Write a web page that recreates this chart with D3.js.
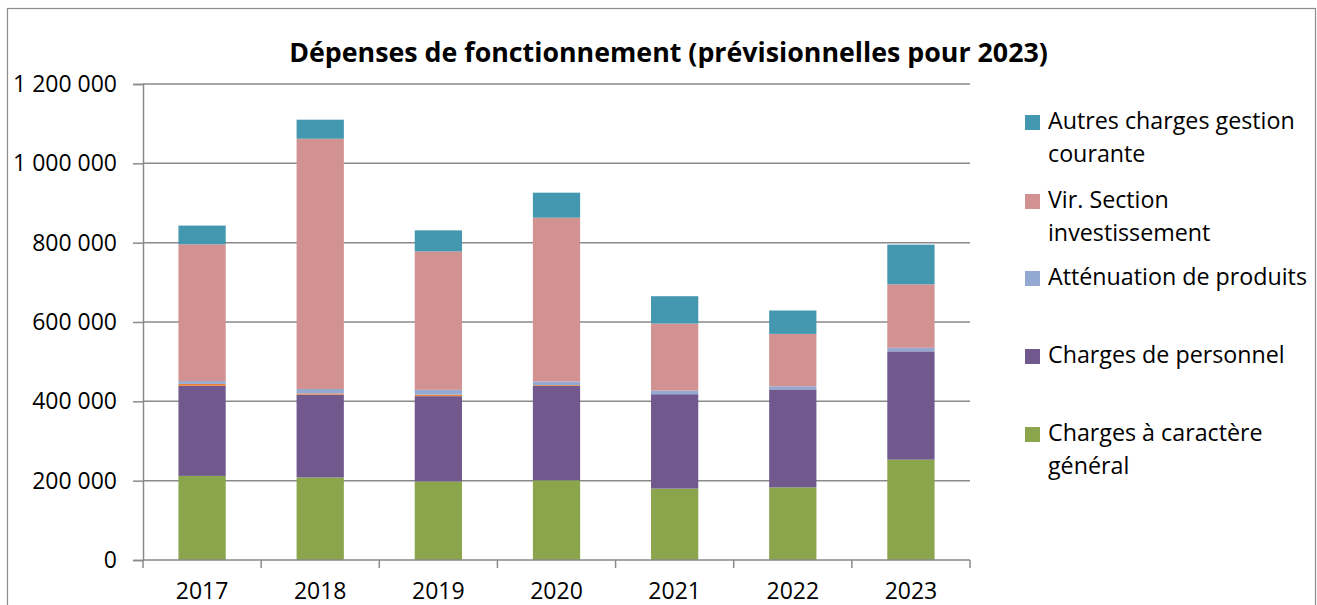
<!DOCTYPE html>
<html>
<head>
<meta charset="utf-8">
<script src="https://cdn.jsdelivr.net/npm/d3@7"></script>
<style>
  html, body { margin: 0; padding: 0; background: #fff; }
  svg { display: block; }
</style>
</head>
<body>
<svg width="1317" height="605"></svg>
<script>
// values (euros)
var years = ['2017', '2018', '2019', '2020', '2021', '2022', '2023'];
var chargesGenerales = [212000, 208000, 198000, 201000, 180000, 183000, 253000];
var chargesPersonnel = [227000, 209000, 215000, 238000, 238000, 247000, 273000];
var autresPetites = [5000, 3000, 4000, 2000, 0, 0, 0]; // thin orange layer, not in legend
var attenuation = [7000, 11000, 12000, 9000, 9000, 8000, 9000];
var virSection = [345000, 631000, 349000, 413000, 169000, 132000, 160000];
var autresCharges = [47000, 48000, 53000, 63000, 69000, 59000, 100000];
var yTicks = [0, 200000, 400000, 600000, 800000, 1000000, 1200000];

var series = [
  { key: 'gen', label: ['Charges à caractère', 'général'], values: chargesGenerales, color: '#8aa54c', legend: true },
  { key: 'pers', label: ['Charges de personnel'], values: chargesPersonnel, color: '#71598e', legend: true },
  { key: 'fin', label: [''], values: autresPetites, color: '#e8853d', legend: false },
  { key: 'att', label: ['Atténuation de produits'], values: attenuation, color: '#93a9d2', legend: true },
  { key: 'vir', label: ['Vir. Section', 'investissement'], values: virSection, color: '#d29291', legend: true },
  { key: 'aut', label: ['Autres charges gestion', 'courante'], values: autresCharges, color: '#4397af', legend: true }
];

var FONT = '"Open Sans", "Noto Sans", sans-serif';
var svg = d3.select('svg');
var width = +svg.attr('width');
var height = +svg.attr('height');

function fitSize(txt, weight, target) {
  var t = svg.append('text')
    .style('font-family', FONT).style('font-weight', weight)
    .style('font-size', '100px').text(txt);
  var w = t.node().getComputedTextLength();
  t.remove();
  return 100 * target / w;
}

var titleSize = fitSize('Dépenses de fonctionnement (prévisionnelles pour 2023)', 'bold', 759);
var axisSize = fitSize('1 200 000', 'normal', 104);
var legendSize = fitSize('Atténuation de produits', 'normal', 259);

// chart frame
svg.append('rect')
  .attr('x', 7.5).attr('y', 8.5)
  .attr('width', 1308).attr('height', 700)
  .attr('fill', 'none').attr('stroke', '#8c8c8c').attr('stroke-width', 1.2);

var margin = { left: 143, right: 970, top: 84, bottom: 560 };

var x = d3.scaleBand().domain(years)
  .range([margin.left, margin.right])
  .paddingInner(0.6).paddingOuter(0.3);

var y = d3.scaleLinear().domain([0, 1200000]).range([margin.bottom, margin.top]);

var fr = d3.formatLocale({ decimal: ',', thousands: ' ', grouping: [3], currency: ['', ' €'] });
var fmt = fr.format(',');

// gridlines
svg.append('g').selectAll('line')
  .data(yTicks.filter(function (d) { return d > 0; }))
  .enter().append('line')
  .attr('x1', margin.left).attr('x2', margin.right)
  .attr('y1', function (d) { return y(d); })
  .attr('y2', function (d) { return y(d); })
  .attr('stroke', '#8a8a8a').attr('stroke-width', 1.5);

// stacked bars
var table = years.map(function (yr, i) {
  var row = { year: yr };
  series.forEach(function (s) { row[s.key] = s.values[i]; });
  return row;
});
var stack = d3.stack().keys(series.map(function (s) { return s.key; }));
var layers = stack(table);

svg.append('g').selectAll('g')
  .data(layers)
  .enter().append('g')
  .attr('fill', function (d, i) { return series[i].color; })
  .selectAll('rect')
  .data(function (d) { return d; })
  .enter().append('rect')
  .attr('x', function (d) { return x(d.data.year); })
  .attr('width', x.bandwidth())
  .attr('y', function (d) { return y(d[1]); })
  .attr('height', function (d) { return y(d[0]) - y(d[1]); });

// y axis
var yAxis = d3.axisLeft(y).tickValues(yTicks).tickFormat(fmt)
  .tickSize(10).tickPadding(16);
var yg = svg.append('g').attr('transform', 'translate(' + margin.left + ',0)').call(yAxis);
yg.select('.domain').attr('stroke', '#8a8a8a').attr('stroke-width', 1.5);
yg.selectAll('.tick line').attr('stroke', '#8a8a8a').attr('stroke-width', 1.5);
yg.selectAll('.tick text')
  .style('font-family', FONT).style('font-size', axisSize + 'px').attr('fill', '#000');

// x axis: line and ticks at band boundaries, labels at band centres
var xg = svg.append('g');
xg.append('line')
  .attr('x1', margin.left).attr('x2', margin.right)
  .attr('y1', y(0)).attr('y2', y(0))
  .attr('stroke', '#8a8a8a').attr('stroke-width', 1.5);
var bounds = years.map(function (d) { return x(d) - (x.step() - x.bandwidth()) / 2; });
bounds.push(margin.right);
xg.selectAll('line.tk')
  .data(bounds).enter().append('line')
  .attr('class', 'tk')
  .attr('x1', function (d) { return d; }).attr('x2', function (d) { return d; })
  .attr('y1', y(0)).attr('y2', y(0) + 8)
  .attr('stroke', '#8a8a8a').attr('stroke-width', 1.5);
xg.selectAll('text')
  .data(years).enter().append('text')
  .attr('x', function (d) { return x(d) + x.bandwidth() / 2; })
  .attr('y', 599)
  .attr('text-anchor', 'middle')
  .style('font-family', FONT).style('font-size', axisSize + 'px')
  .text(function (d) { return d; });

// title
svg.append('text')
  .attr('x', 668.5).attr('y', 62)
  .attr('text-anchor', 'middle')
  .style('font-family', FONT).style('font-weight', 'bold')
  .style('font-size', titleSize + 'px')
  .text('Dépenses de fonctionnement (prévisionnelles pour 2023)');

// legend (top to bottom = reverse stacking order)
var legendItems = series.filter(function (s) { return s.legend; }).reverse();
var legendY = [129, 208, 285, 363, 441];
var lg = svg.append('g').selectAll('g')
  .data(legendItems).enter().append('g')
  .attr('transform', function (d, i) { return 'translate(1025,' + legendY[i] + ')'; });
lg.append('rect')
  .attr('x', 0).attr('y', -14).attr('width', 15).attr('height', 15)
  .attr('fill', function (d) { return d.color; });
lg.each(function (d) {
  var g = d3.select(this);
  d.label.forEach(function (line, j) {
    g.append('text')
      .attr('x', 23).attr('y', j * 33)
      .style('font-family', FONT).style('font-size', legendSize + 'px')
      .text(line);
  });
});
</script>
</body>
</html>
